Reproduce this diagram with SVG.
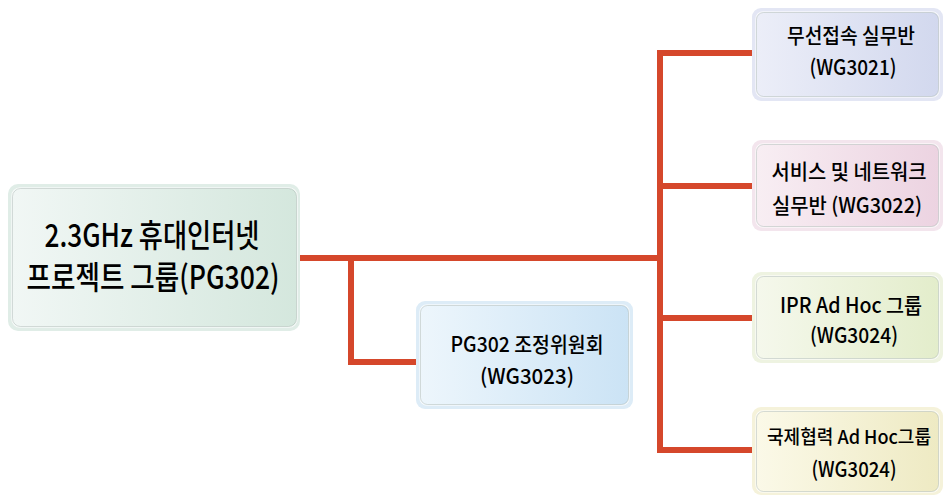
<svg xmlns="http://www.w3.org/2000/svg" width="944" height="496" viewBox="0 0 944 496">
<defs>
<linearGradient id="gMain" x1="0" y1="0" x2="1" y2="0"><stop offset="0" stop-color="#f1f7f5"/><stop offset="1" stop-color="#d4e7dd"/></linearGradient>
<linearGradient id="gBlue" x1="0" y1="0" x2="1" y2="0"><stop offset="0" stop-color="#edf6fc"/><stop offset="1" stop-color="#cbe3f5"/></linearGradient>
<linearGradient id="gLav" x1="0" y1="0" x2="1" y2="0"><stop offset="0" stop-color="#eceef8"/><stop offset="1" stop-color="#d2d8ee"/></linearGradient>
<linearGradient id="gPink" x1="0" y1="0" x2="1" y2="0"><stop offset="0" stop-color="#f8eef3"/><stop offset="1" stop-color="#ecd3e1"/></linearGradient>
<linearGradient id="gGreen" x1="0" y1="0" x2="1" y2="0"><stop offset="0" stop-color="#f5f8ec"/><stop offset="1" stop-color="#e3edcb"/></linearGradient>
<linearGradient id="gYel" x1="0" y1="0" x2="1" y2="0"><stop offset="0" stop-color="#fbf9e8"/><stop offset="1" stop-color="#eeeac3"/></linearGradient>
</defs>
<style>
.outer{stroke:none}
.inner{stroke:#ffffff;stroke-opacity:0.7;stroke-width:1.5}
.edge{fill:none;stroke:#8a9a94;stroke-opacity:0.35;stroke-width:1}
.conn{fill:none;stroke:#d5472b;stroke-width:6;stroke-linecap:butt;stroke-linejoin:miter}
text{font-family:"Noto Sans CJK KR","Liberation Sans",sans-serif;fill:#000;text-anchor:middle}
.big{font-size:32px;font-weight:500}
.sm{font-size:21px;font-weight:500}
</style>
<g id="connectors">
<path class="conn" d="M300,258 H660"/>
<path class="conn" d="M660,53 V450"/>
<path class="conn" d="M657,53 H752"/>
<path class="conn" d="M657,186 H752"/>
<path class="conn" d="M657,318 H752"/>
<path class="conn" d="M657,450 H752"/>
<path class="conn" d="M351,255 V362 H417"/>
</g>
<g id="main">
<rect class="outer" x="8" y="184" width="292" height="147" rx="10" fill="#e0ede7"/>
<rect class="inner" x="12" y="188" width="285" height="139" rx="8" fill="url(#gMain)"/>
<rect class="edge" x="12.5" y="188.5" width="284" height="138" rx="8"/>
<text class="big" x="152" y="247" textLength="215" lengthAdjust="spacingAndGlyphs">2.3GHz 휴대인터넷</text>
<text class="big" x="153" y="289" textLength="253" lengthAdjust="spacingAndGlyphs">프로젝트 그룹(PG302)</text>
</g>
<g id="pg302">
<rect class="outer" x="416" y="301" width="217" height="108" rx="9" fill="#ddecf7"/>
<rect class="inner" x="420" y="305" width="209" height="100" rx="7" fill="url(#gBlue)"/>
<rect class="edge" x="420.5" y="305.5" width="208" height="99" rx="7"/>
<text class="sm" x="527" y="352" textLength="153" lengthAdjust="spacingAndGlyphs">PG302 조정위원회</text>
<text class="sm" x="527" y="384" textLength="94" lengthAdjust="spacingAndGlyphs">(WG3023)</text>
</g>
<g id="wg3021">
<rect class="outer" x="752" y="8" width="191" height="93" rx="9" fill="#e3e6f4"/>
<rect class="inner" x="756" y="12" width="183" height="85" rx="7" fill="url(#gLav)"/>
<rect class="edge" x="756.5" y="12.5" width="182" height="84" rx="7"/>
<text class="sm" x="851" y="43" textLength="128" lengthAdjust="spacingAndGlyphs">무선접속 실무반</text>
<text class="sm" x="853" y="75" textLength="87" lengthAdjust="spacingAndGlyphs">(WG3021)</text>
</g>
<g id="wg3022">
<rect class="outer" x="752" y="140" width="191" height="91" rx="9" fill="#f3e5ed"/>
<rect class="inner" x="756" y="144" width="183" height="83" rx="7" fill="url(#gPink)"/>
<rect class="edge" x="756.5" y="144.5" width="182" height="82" rx="7"/>
<text class="sm" x="849" y="179" textLength="155" lengthAdjust="spacingAndGlyphs">서비스 및 네트워크</text>
<text class="sm" x="847" y="213" textLength="150" lengthAdjust="spacingAndGlyphs">실무반 (WG3022)</text>
</g>
<g id="wg3024a">
<rect class="outer" x="752" y="272" width="191" height="91" rx="9" fill="#eef3e1"/>
<rect class="inner" x="756" y="276" width="183" height="83" rx="7" fill="url(#gGreen)"/>
<rect class="edge" x="756.5" y="276.5" width="182" height="82" rx="7"/>
<text class="sm" x="851" y="313" textLength="142" lengthAdjust="spacingAndGlyphs">IPR Ad Hoc 그룹</text>
<text class="sm" x="854" y="343" textLength="88" lengthAdjust="spacingAndGlyphs">(WG3024)</text>
</g>
<g id="wg3024b">
<rect class="outer" x="752" y="407" width="191" height="88" rx="9" fill="#f5f2da"/>
<rect class="inner" x="756" y="411" width="183" height="81" rx="7" fill="url(#gYel)"/>
<rect class="edge" x="756.5" y="411.5" width="182" height="80" rx="7"/>
<text class="sm" x="849" y="444" font-size="19" style="font-size:19px" textLength="164" lengthAdjust="spacingAndGlyphs">국제협력 Ad Hoc그룹</text>
<text class="sm" x="854" y="477" textLength="85" lengthAdjust="spacingAndGlyphs">(WG3024)</text>
</g>
</svg>
